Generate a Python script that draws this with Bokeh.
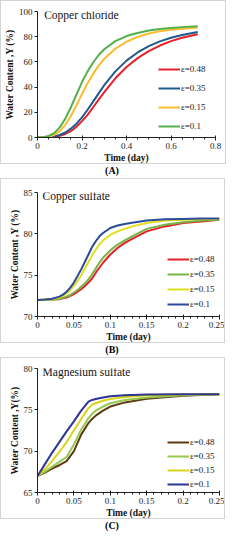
from bokeh.plotting import figure
from bokeh.layouts import column
from bokeh.models import Div, Legend, LegendItem, Label, FixedTicker
from bokeh.embed import file_html
from bokeh.resources import INLINE

# ---------------- data ----------------
eps_labels = ["\u03b5=0.48", "\u03b5=0.35", "\u03b5=0.15", "\u03b5=0.1"]

time_a = [0, 0.025, 0.05, 0.075, 0.1, 0.125, 0.15, 0.175, 0.2, 0.225, 0.25, 0.275,
          0.3, 0.35, 0.4, 0.45, 0.5, 0.55, 0.6, 0.65, 0.72]
a_048 = [0, 0, 0.1, 0.5, 1.3, 2.8, 5, 8.5, 13, 18, 24, 30, 36, 47, 56, 63, 68.5, 73, 76.5, 79.2, 82]
a_035 = [0, 0, 0.2, 0.8, 2, 4, 7, 11, 16, 22, 28.5, 35, 41.5, 52.5, 61, 67.5, 72.5, 76.3, 79.2, 81.4, 83.8]
a_015 = [0, 0.1, 0.6, 2, 5, 10, 17, 25.5, 34.5, 43, 50.5, 57, 62.5, 70.5, 76, 79.8, 82.5, 84.3, 85.5, 86.4, 87.3]
a_010 = [0, 0.2, 1.2, 3.5, 8, 15, 24, 34, 44, 52.5, 59.5, 65.5, 70, 76.5, 80.5, 83, 85, 86.2, 87, 87.6, 88.2]

time_b = [0, 0.01, 0.02, 0.03, 0.035, 0.04, 0.045, 0.05, 0.055, 0.06, 0.065, 0.07, 0.075,
          0.08, 0.085, 0.09, 0.1, 0.11, 0.12, 0.13, 0.15, 0.175, 0.2, 0.225, 0.25]
b_048 = [72, 72.0, 72.05, 72.1, 72.2, 72.3, 72.5, 72.7, 73.0, 73.3, 73.7, 74.1, 74.6, 75.3, 75.9,
         76.5, 77.5, 78.3, 78.9, 79.4, 80.3, 80.9, 81.3, 81.5, 81.7]
b_035 = [72, 72.0, 72.05, 72.15, 72.25, 72.4, 72.6, 72.9, 73.2, 73.6, 74.0, 74.5, 75.1, 75.8, 76.5,
         77.1, 78.0, 78.7, 79.2, 79.7, 80.6, 81.1, 81.4, 81.6, 81.7]
b_015 = [72, 72.05, 72.1, 72.3, 72.5, 72.8, 73.2, 73.7, 74.3, 75.0, 75.8, 76.6, 77.4, 78.1, 78.7,
         79.2, 79.9, 80.3, 80.6, 80.9, 81.3, 81.6, 81.7, 81.8, 81.8]
b_010 = [72, 72.05, 72.15, 72.4, 72.65, 73.0, 73.5, 74.1, 74.9, 75.7, 76.6, 77.5, 78.4, 79.1, 79.7,
         80.1, 80.7, 81.0, 81.2, 81.35, 81.6, 81.75, 81.8, 81.85, 81.85]

time_c = [0, 0.01, 0.02, 0.03, 0.04, 0.05, 0.06, 0.07, 0.075, 0.08, 0.09, 0.1, 0.12, 0.15, 0.2, 0.25]
c_048 = [67, 67.4, 67.9, 68.3, 68.8, 70.0, 72.0, 73.4, 73.9, 74.3, 74.9, 75.4, 75.9, 76.35, 76.7, 76.9]
c_035 = [67, 67.5, 68.1, 68.7, 69.3, 70.8, 72.6, 74.0, 74.5, 74.9, 75.4, 75.8, 76.2, 76.5, 76.75, 76.9]
c_015 = [67, 67.8, 68.8, 69.9, 71.1, 72.5, 73.9, 75.2, 75.6, 75.8, 76.1, 76.3, 76.55, 76.75, 76.85, 76.9]
c_010 = [67, 68.4, 69.8, 71.1, 72.4, 73.6, 74.9, 76.0, 76.2, 76.3, 76.5, 76.65, 76.75, 76.85, 76.9, 76.9]

colors_a = ["#E8202A", "#1F5A8C", "#FDBB2F", "#52B04A"]
colors_b = ["#E8202A", "#74B544", "#E2DE1A", "#2B4A9B"]
colors_c = ["#5E3A12", "#96C84A", "#D8D41A", "#2E3492"]

SERIF = "Liberation Serif"


def make_panel(title, x, ys, colors, xr, yr, xticks, yticks, ylabel, minor_x,
               legend_x, legend_y, legend_spacing, title_x, fw, fh, top, left, right):
    p = figure(frame_width=fw, frame_height=fh, output_backend="svg", toolbar_location=None,
               x_range=xr, y_range=yr, min_border_left=left, min_border_right=right,
               min_border_top=top, min_border_bottom=0,
               styles={"border": "1px solid #d4d4d4"})
    p.grid.visible = False
    p.outline_line_color = None
    p.background_fill_color = "white"
    p.border_fill_color = "white"
    rs = []
    for yv, c in zip(ys, colors):
        rs.append(p.line(x, yv, line_color=c, line_width=2))
    items = [LegendItem(label=lab, renderers=[r]) for r, lab in zip(rs, eps_labels)]
    leg = Legend(items=items, location=(legend_x, legend_y), padding=0, margin=0,
                 spacing=legend_spacing, glyph_width=22, glyph_height=12, label_height=12,
                 label_standoff=1, label_text_font=SERIF, label_text_font_size="9px",
                 label_text_color="#222222", background_fill_alpha=0, border_line_color=None)
    p.add_layout(leg, "center")

    for ax in (p.xaxis[0], p.yaxis[0]):
        ax.axis_line_color = "#222222"
        ax.major_tick_line_color = "#222222"
        ax.minor_tick_line_color = "#222222"
        ax.major_label_text_font = SERIF
        ax.major_label_text_font_size = "9px"
        ax.major_label_text_color = "#222222"
        ax.axis_label_text_font = SERIF
        ax.axis_label_text_font_style = "bold"
        ax.axis_label_text_font_size = "9.5px"
        ax.axis_label_text_color = "#111111"
        ax.major_label_standoff = 2
        ax.axis_label_standoff = 1
    p.xaxis.ticker = FixedTicker(ticks=xticks, minor_ticks=minor_x)
    p.yaxis.ticker = FixedTicker(ticks=yticks)
    p.xaxis.major_tick_out = 3
    p.xaxis.major_tick_in = 2
    p.xaxis.minor_tick_out = 2
    p.xaxis.minor_tick_in = 0
    p.yaxis.major_tick_out = 3
    p.yaxis.major_tick_in = 0
    p.yaxis.minor_tick_out = 0
    p.yaxis.minor_tick_in = 0
    p.xaxis.axis_label = "Time (day)"
    p.yaxis.axis_label = ylabel
    p.add_layout(Label(x=title_x, y=yr[1], text=title, text_font=SERIF,
                       text_font_size="11.5px", text_color="#111111",
                       text_baseline="middle", y_offset=-3))
    return p


def make_caption(t):
    return Div(text=t, width=224, height=14, margin=(0, 0, 0, 0),
               styles={"text-align": "center", "font-family": SERIF, "font-weight": "bold",
                       "font-size": "10px", "line-height": "14px", "width": "224px"})


def frange(a, b, s):
    out = []
    v = a
    while v <= b + 1e-9:
        out.append(round(v, 4))
        v += s
    return out


pa = make_panel("Copper chloride", time_a, [a_048, a_035, a_015, a_010], colors_a,
                (0, 0.8), (0, 100), [0, 0.2, 0.4, 0.6, 0.8], [0, 20, 40, 60, 80, 100],
                "Water Content ,Y (%)", frange(0, 0.8, 0.05), 121, 5, 7, 0.03,
                176, 124, 10, 34, 12)
pb = make_panel("Copper sulfate", time_b, [b_048, b_035, b_015, b_010], colors_b,
                (0, 0.25), (70, 85), [0, 0.05, 0.1, 0.15, 0.2, 0.25], [70, 75, 80, 85],
                "Water Content ,Y (%)", frange(0, 0.25, 0.01), 130, 6, 3, 0.007,
                180, 122, 13, 30, 12)
pc = make_panel("Magnesium sulfate", time_c, [c_048, c_035, c_015, c_010], colors_c,
                (0, 0.25), (65, 80), [0, 0.05, 0.1, 0.15, 0.2, 0.25], [65, 70, 75, 80],
                "Water Content ,Y(%)", frange(0, 0.25, 0.01), 130, 2, 2, 0.007,
                180, 122, 10, 30, 12)

layout = column(pa, make_caption("(A)"), pb, make_caption("(B)"), pc, make_caption("(C)"),
                spacing=0)

open("out.html", "w").write(file_html(layout, INLINE))
